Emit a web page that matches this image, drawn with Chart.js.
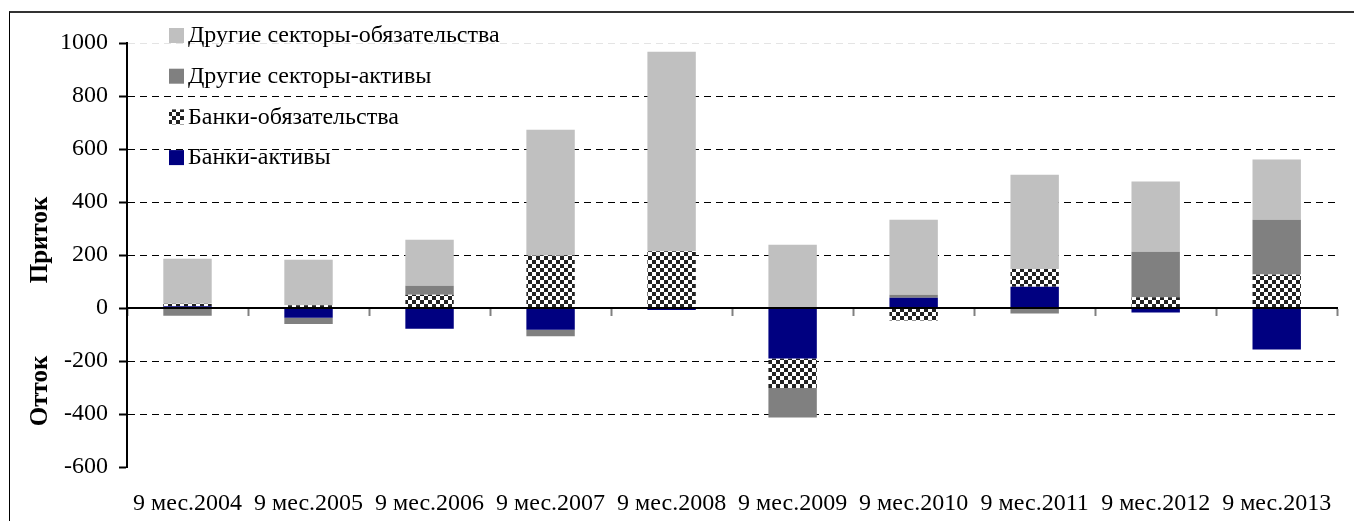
<!DOCTYPE html>
<html>
<head>
<meta charset="utf-8">
<script src="https://cdn.jsdelivr.net/npm/chart.js@4.4.0/dist/chart.umd.min.js"></script>
<style>
  body { margin: 0; background: #fff; overflow: hidden; }
  #wrap { position: relative; width: 1354px; height: 521px; }
  #frame { position: absolute; left: 9px; top: 11px; width: 1400px; height: 600px;
           border-left: 1px solid #000; border-top: 2px solid #333; }
  canvas { position: absolute; left: 0; top: 0; }
</style>
</head>
<body>
<div id="wrap">
  <div id="frame"></div>
  <canvas id="chart" width="1354" height="521"></canvas>
</div>
<script>
// data
const categories = ['9 мес.2004', '9 мес.2005', '9 мес.2006', '9 мес.2007', '9 мес.2008',
                    '9 мес.2009', '9 мес.2010', '9 мес.2011', '9 мес.2012', '9 мес.2013'];
const banksAssets = [7, -37, -78, -82, -8, -191, 39, 80, -17, -157];
const banksLiabilities = [9, 10, 50, 198, 214, -111, -47, 67, 41, 126];
const otherAssets = [-29, -23, 34, -25, 0, -111, 11, -21, 171, 207];
const otherLiabilities = [170, 172, 174, 475, 753, 239, 283, 356, 265, 227];
const yTicks = [-600, -400, -200, 0, 200, 400, 600, 800, 1000];
const sideLabels = ['Приток', 'Отток'];

const FONT = "'Liberation Serif', 'Times New Roman', serif";
const canvas = document.getElementById('chart');
const ctx2d = canvas.getContext('2d');

// checkerboard fill for "Банки-обязательства"
function checker() {
  const c = document.createElement('canvas');
  c.width = 8; c.height = 8;
  const g = c.getContext('2d');
  g.fillStyle = '#fff'; g.fillRect(0, 0, 8, 8);
  g.fillStyle = '#222'; g.fillRect(0, 0, 4, 4); g.fillRect(4, 4, 4, 4);
  return ctx2d.createPattern(c, 'repeat');
}

const boxLegend = {
  id: 'boxLegend',
  afterDraw(chart) {
    const ctx = chart.ctx;
    const ds = chart.data.datasets.slice().reverse();
    ctx.save();
    ctx.font = '24px ' + FONT;
    ctx.textBaseline = 'middle';
    ds.forEach((d, i) => {
      const y = 28 + i * 40.7;
      ctx.fillStyle = d.backgroundColor;
      ctx.fillRect(169, y, 15, 15);
      ctx.fillStyle = '#000';
      ctx.fillText(d.label, 188, y + 8);
    });
    ctx.restore();
  }
};

const sideTitles = {
  id: 'sideTitles',
  afterDraw(chart) {
    const ctx = chart.ctx;
    const pos = [[41, 240], [41, 391]];
    ctx.save();
    ctx.font = 'bold 25px ' + FONT;
    ctx.fillStyle = '#000';
    ctx.textAlign = 'center';
    ctx.textBaseline = 'middle';
    sideLabels.forEach((t, i) => {
      ctx.save();
      ctx.translate(pos[i][0], pos[i][1]);
      ctx.rotate(-Math.PI / 2);
      ctx.fillText(t, 0, 0);
      ctx.restore();
    });
    ctx.restore();
  }
};

new Chart(canvas, {
  type: 'bar',
  data: {
    labels: categories,
    datasets: [
      { label: 'Банки-активы', data: banksAssets, backgroundColor: '#000080' },
      { label: 'Банки-обязательства', data: banksLiabilities, backgroundColor: checker() },
      { label: 'Другие секторы-активы', data: otherAssets, backgroundColor: '#808080' },
      { label: 'Другие секторы-обязательства', data: otherLiabilities, backgroundColor: '#C0C0C0' }
    ]
  },
  options: {
    responsive: false,
    animation: false,
    layout: { padding: { top: 43, right: 15, bottom: 0, left: 0 } },
    datasets: { bar: { barPercentage: 0.4, categoryPercentage: 1, borderWidth: 0 } },
    plugins: { legend: { display: false }, tooltip: { enabled: false } },
    scales: {
      x: {
        stacked: true,
        afterFit: s => { s.height = 54; },
        grid: { display: false, drawTicks: false },
        border: { display: false },
        ticks: { color: '#000', font: { family: FONT, size: 24 }, padding: 22,
                 maxRotation: 0, autoSkip: false }
      },
      x2: {
        type: 'category',
        labels: categories,
        position: { y: 0 },
        offset: true,
        grid: { offset: true, drawOnChartArea: false, drawTicks: true, tickLength: 7,
                tickColor: '#808080', tickWidth: 2 },
        border: { display: true, color: '#000', width: 2, z: 1 },
        ticks: { display: false }
      },
      y: {
        stacked: true,
        min: -600,
        max: 1000,
        afterBuildTicks: s => { s.ticks = yTicks.map(v => ({ value: v })); },
        afterFit: s => { s.width = 127; },
        grid: {
          color: c => c.tick.value === 1000 ? '#e4e4e4'
                    : (c.tick.value === 0 || c.tick.value === -600) ? 'rgba(0,0,0,0)' : '#000',
          lineWidth: 1,
          drawTicks: true, tickLength: 8, tickColor: '#000', tickWidth: 2, tickBorderDash: []
        },
        border: { display: true, color: '#000', width: 2, dash: [7, 5] },
        ticks: { color: '#000', font: { family: FONT, size: 24 }, padding: 11,
                 callback: v => String(v) }
      }
    }
  },
  plugins: [boxLegend, sideTitles]
});
</script>
</body>
</html>
